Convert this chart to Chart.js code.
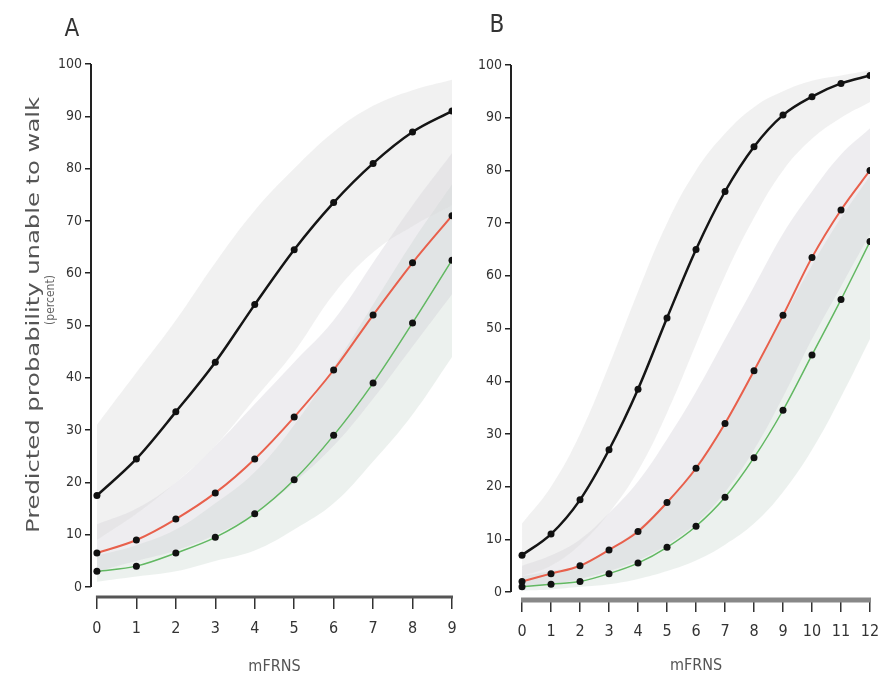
<!DOCTYPE html>
<html>
<head>
<meta charset="utf-8">
<script src="https://cdn.jsdelivr.net/npm/chart.js@4.4.1/dist/chart.umd.min.js"></script>
<style>
  body { margin: 0; background: #fff; overflow: hidden; }
  #wrap { position: relative; width: 883px; height: 679px; }
  #chartA { position: absolute; left: 0; top: 0; }
  #chartB { position: absolute; left: 470px; top: 0; }
</style>
</head>
<body>
<div id="wrap">
  <canvas id="chartA" width="470" height="679"></canvas>
  <canvas id="chartB" width="413" height="679"></canvas>
</div>
<script>
// panel A data (mFRNS 0..9)
const mfrnsA = [0, 1, 2, 3, 4, 5, 6, 7, 8, 9];
const blackA = [17.5, 24.5, 33.5, 43, 54, 64.5, 73.5, 81, 87, 91];
const redA = [6.5, 9, 13, 18, 24.5, 32.5, 41.5, 52, 62, 71];
const greenA = [3, 4, 6.5, 9.5, 14, 20.5, 29, 39, 50.5, 62.5];
const blackLoA = [9, 14, 20, 27, 36, 45, 56, 64, 69, 73];
const blackHiA = [31, 41, 51, 62, 72, 80, 87, 92, 95, 97];
const redLoA = [3, 5, 7, 10, 14, 20, 27, 36, 46, 56];
const redHiA = [12, 15, 20, 27, 35, 43, 51, 62, 73, 83];
const greenLoA = [1, 2, 3, 5, 7, 11, 16, 24, 33, 44];
const greenHiA = [6, 8, 11, 16, 22, 31, 42, 54, 66, 77];

// panel B data (mFRNS 0..12)
const mfrnsB = [0, 1, 2, 3, 4, 5, 6, 7, 8, 9, 10, 11, 12];
const blackB = [7, 11, 17.5, 27, 38.5, 52, 65, 76, 84.5, 90.5, 94, 96.5, 98];
const redB = [2, 3.5, 5, 8, 11.5, 17, 23.5, 32, 42, 52.5, 63.5, 72.5, 80];
const greenB = [1, 1.5, 2, 3.5, 5.5, 8.5, 12.5, 18, 25.5, 34.5, 45, 55.5, 66.5];
const blackLoB = [3, 5, 9, 15, 23, 34, 47, 60, 71, 80, 86, 90, 93];
const blackHiB = [13, 20, 30, 43, 57, 70, 80, 87, 92, 95, 97, 98, 99];
const redLoB = [1, 1.5, 2.5, 4, 6, 9, 13, 19, 27, 37, 48, 58, 68];
const redHiB = [5, 7, 10, 15, 21, 29, 38, 48, 58, 68, 76, 83, 88];
const greenLoB = [0.3, 0.5, 1, 1.5, 2.5, 4, 6, 9, 13, 19, 27, 37, 48];
const greenHiB = [3, 4, 5, 8, 12, 17, 24, 32, 42, 52, 62, 71, 79];

const yTicks = [0, 10, 20, 30, 40, 50, 60, 70, 80, 90, 100];

const narrow = "'Liberation Sans Narrow', 'DejaVu Sans Condensed', 'Roboto Condensed', 'Liberation Sans', sans-serif";

function pts(xs, ys) {
  return xs.map((x, i) => ({ x: x, y: ys[i] }));
}

function lineSet(xs, ys, color, width) {
  return {
    data: pts(xs, ys),
    borderColor: color,
    borderWidth: width,
    pointRadius: 3.5,
    pointBackgroundColor: '#111',
    pointBorderWidth: 0,
    cubicInterpolationMode: 'monotone',
    fill: false,
    order: 0
  };
}

function bandSets(xs, lo, hi, color) {
  return [
    { data: pts(xs, lo), borderWidth: 0, pointRadius: 0, fill: false, tension: 0.4, order: 1 },
    { data: pts(xs, hi), borderWidth: 0, pointRadius: 0, fill: '-1', backgroundColor: color, tension: 0.4, order: 1 }
  ];
}

const decor = {
  id: 'decor',
  afterDraw(chart, args, opts) {
    const ctx = chart.ctx;
    const xs = chart.scales.x;
    const ys = chart.scales.y;
    const area = chart.chartArea;
    ctx.save();
    // y axis line 0..100
    ctx.strokeStyle = '#222';
    ctx.lineWidth = 2;
    ctx.beginPath();
    ctx.moveTo(area.left, ys.getPixelForValue(0));
    ctx.lineTo(area.left, ys.getPixelForValue(100));
    ctx.stroke();
    // detached x axis line
    ctx.strokeStyle = opts.xAxisColor;
    ctx.lineWidth = opts.xAxisWidth;
    ctx.beginPath();
    ctx.moveTo(xs.getPixelForValue(0) - 1, area.bottom);
    ctx.lineTo(xs.getPixelForValue(xs.max) + 1, area.bottom);
    ctx.stroke();

    ctx.fillStyle = '#333';
    ctx.textAlign = 'center';
    ctx.textBaseline = 'middle';
    // panel letter
    ctx.font = '24px ' + narrow;
    ctx.fillText(opts.letter, opts.letterX, opts.letterY);
    // x title
    ctx.fillStyle = '#555';
    ctx.font = '16px ' + narrow;
    ctx.fillText('mFRNS', (xs.getPixelForValue(0) + xs.getPixelForValue(xs.max)) / 2, opts.xTitleY);
    // y title
    if (opts.yTitle) {
      ctx.save();
      ctx.translate(34, 315);
      ctx.rotate(-Math.PI / 2);
      ctx.font = '18px ' + narrow;
      const w = ctx.measureText(opts.yTitle).width;
      ctx.scale(436 / w, 1);
      ctx.fillStyle = '#555';
      ctx.fillText(opts.yTitle, 0, 0);
      ctx.restore();
      ctx.save();
      ctx.translate(51, 300);
      ctx.rotate(-Math.PI / 2);
      ctx.font = '12px ' + narrow;
      ctx.fillStyle = '#666';
      ctx.fillText('(percent)', 0, 0);
      ctx.restore();
    }
    ctx.restore();
  }
};

function makeChart(id, xs, black, red, green, bands, cfg) {
  const datasets = [
    lineSet(xs, black, '#151515', 2.5),
    lineSet(xs, red, '#e8604c', 2),
    lineSet(xs, green, '#62b862', 1.5)
  ].concat(
    bandSets(xs, bands.blackLo, bands.blackHi, 'rgba(218,218,218,0.38)'),
    bandSets(xs, bands.redLo, bands.redHi, 'rgba(206,202,212,0.34)'),
    bandSets(xs, bands.greenLo, bands.greenHi, 'rgba(200,214,206,0.34)')
  );

  return new Chart(document.getElementById(id).getContext('2d'), {
    type: 'line',
    data: { datasets: datasets },
    plugins: [decor],
    options: {
      responsive: false,
      animation: false,
      layout: { padding: { left: 0, top: cfg.top, right: cfg.right, bottom: 0 } },
      plugins: {
        legend: { display: false },
        tooltip: { enabled: false },
        decor: cfg.decor
      },
      scales: {
        x: {
          type: 'linear',
          min: cfg.xMin,
          max: xs[xs.length - 1],
          afterBuildTicks: s => { s.ticks = xs.map(v => ({ value: v })); },
          afterFit: s => {
            s.height = 679 - cfg.bottom;
            s.paddingLeft = 0;
            s.paddingRight = 0;
          },
          border: { display: false },
          grid: { drawOnChartArea: false, drawTicks: true, tickLength: 12, color: '#333', lineWidth: 1.5 },
          ticks: { color: '#333', padding: 10, maxRotation: 0, autoSkip: false, font: { size: 16, family: narrow } }
        },
        y: {
          min: cfg.yMin,
          max: 100,
          afterBuildTicks: s => { s.ticks = yTicks.map(v => ({ value: v })); },
          afterFit: s => { s.width = cfg.left; },
          border: { display: false },
          grid: { drawOnChartArea: false, drawTicks: true, tickLength: 6, color: '#222', lineWidth: 1.5 },
          ticks: { color: '#333', padding: 3, font: { size: 14, family: narrow } }
        }
      }
    }
  });
}

makeChart('chartA', mfrnsA, blackA, redA, greenA,
  { blackLo: blackLoA, blackHi: blackHiA, redLo: redLoA, redHi: redHiA, greenLo: greenLoA, greenHi: greenHiA },
  { top: 64, right: 18, left: 91, bottom: 597, xMin: -0.15, yMin: -1.9,
    decor: { letter: 'A', letterX: 72, letterY: 30, xTitleY: 667, yTitle: 'Predicted probability unable to walk', xAxisColor: '#555', xAxisWidth: 3 } });

makeChart('chartB', mfrnsB, blackB, redB, greenB,
  { blackLo: blackLoB, blackHi: blackHiB, redLo: redLoB, redHi: redHiB, greenLo: greenLoB, greenHi: greenHiB },
  { top: 65, right: 13, left: 41, bottom: 600, xMin: -0.38, yMin: -1.5,
    decor: { letter: 'B', letterX: 27, letterY: 26, xTitleY: 666, yTitle: null, xAxisColor: '#888', xAxisWidth: 5 } });
</script>
</body>
</html>
